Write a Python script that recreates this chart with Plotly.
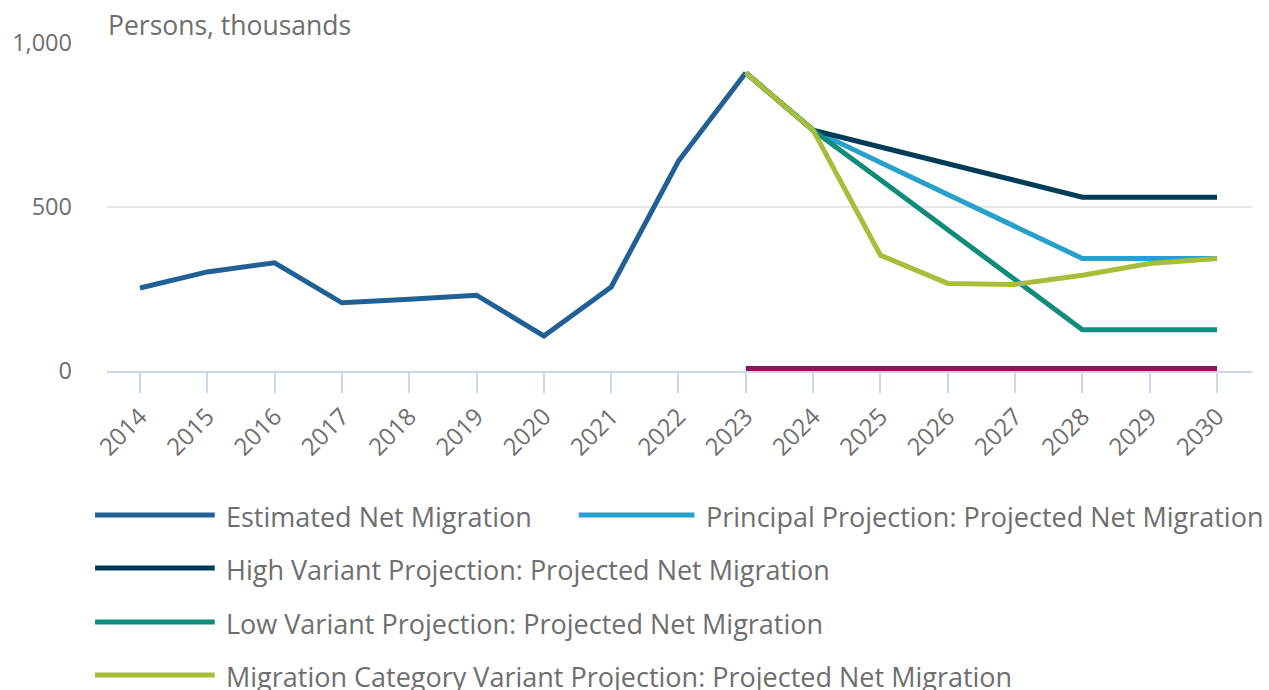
import plotly.graph_objects as go

# ---------------- data ----------------
years = [str(y) for y in range(2014, 2031)]
est_years = years[:10]            # 2014..2023
proj_years = years[9:]            # 2023..2030

estimated = [253, 302, 330, 208, 219, 231, 107, 256, 640, 909]
principal = [909, 734, 636, 538, 441, 343, 343, 343]
high_var = [909, 734, 683, 632, 581, 530, 530, 530]
low_var = [909, 734, 583, 431, 280, 126, 126, 126]
migcat_var = [909, 734, 353, 267, 264, 292, 328, 343]
zero_var = [8, 8, 8, 8, 8, 8, 8, 8]

names = [
    "Estimated Net Migration",
    "Principal Projection: Projected Net Migration",
    "High Variant Projection: Projected Net Migration",
    "Low Variant Projection: Projected Net Migration",
    "Migration Category Variant Projection: Projected Net Migration",
    "Zero Net Migration Variant Projection: Projected Net Migration",
]
colors = ["#206095", "#27a0cc", "#003c57", "#118c7b", "#a8bd3a", "#871a5b"]
y_ticks = [0, 500, 1000]
y_title = "Persons, thousands"
divider_year = "2022"

# ---------------- layout geometry ----------------
W, H = 1269, 690
L, R, T, B = 104, 17, 43, 319
PW = W - L - R
PH = H - T - B
TXT = "#6e6e6e"
FONT = "Open Sans"


def px_x(p):
    return (p - L) / PW


def px_y(p):
    return (H - B - p) / PH


fig = go.Figure()
series = [
    (est_years, estimated),
    (proj_years, principal),
    (proj_years, high_var),
    (proj_years, low_var),
    (proj_years, migcat_var),
    (proj_years, zero_var),
]
for (xs, ys), name, c in zip(series, names, colors):
    fig.add_trace(go.Scatter(
        x=xs, y=ys, name=name, mode="lines",
        line=dict(color=c, width=5), showlegend=False,
    ))

# vertical divider
fig.add_shape(type="line", xref="x", yref="paper", x0=divider_year, x1=divider_year,
              y0=0, y1=1, line=dict(color="#e6e6e6", width=5), layer="below")

# axis title
fig.add_annotation(text=y_title, xref="paper", yref="paper", x=px_x(103), y=px_y(25),
                   xanchor="left", yanchor="middle", showarrow=False,
                   font=dict(family=FONT, size=26.5, color=TXT))

# custom legend
legend_pos = [
    (92, 212, 221, 515),
    (577, 693, 703, 515),
    (92, 212, 221, 568),
    (92, 212, 221, 622),
    (92, 212, 221, 675),
]
for (x0, x1, tx, py), name, c in zip(legend_pos, names, colors):
    fig.add_shape(type="line", xref="paper", yref="paper",
                  x0=px_x(x0), x1=px_x(x1), y0=px_y(py), y1=px_y(py),
                  line=dict(color=c, width=5))
    fig.add_annotation(text=name, xref="paper", yref="paper", x=px_x(tx), y=px_y(py + 1),
                       xanchor="left", yanchor="middle", showarrow=False,
                       font=dict(family=FONT, size=27, color=TXT))

fig.update_layout(
    width=W, height=H,
    margin=dict(l=L, r=R, t=T, b=B, pad=0),
    paper_bgcolor="white", plot_bgcolor="white",
    font=dict(family=FONT, color=TXT),
    showlegend=False,
    xaxis=dict(
        type="category", categoryorder="array", categoryarray=years,
        range=[-0.49, 16.52],
        showgrid=False, zeroline=False,
        showline=True, linecolor="#ccd6eb", linewidth=2,
        ticks="outside", ticklen=20, tickcolor="#ccd6eb", tickwidth=2,
        ticklabelstandoff=0,
        tickangle=-45, tickfont=dict(family=FONT, size=24, color=TXT),
    ),
    yaxis=dict(
        range=[0, 1000], tickvals=y_ticks, tickformat=",",
        showgrid=True, gridcolor="#e6e6e6", gridwidth=2,
        zeroline=False, showline=False, ticks="",
        ticklabelstandoff=34,
        tickfont=dict(family=FONT, size=23.5, color=TXT),
    ),
)

fig.write_html("out.html", config={"displayModeBar": False},
               post_script="document.body.style.margin='0';")
